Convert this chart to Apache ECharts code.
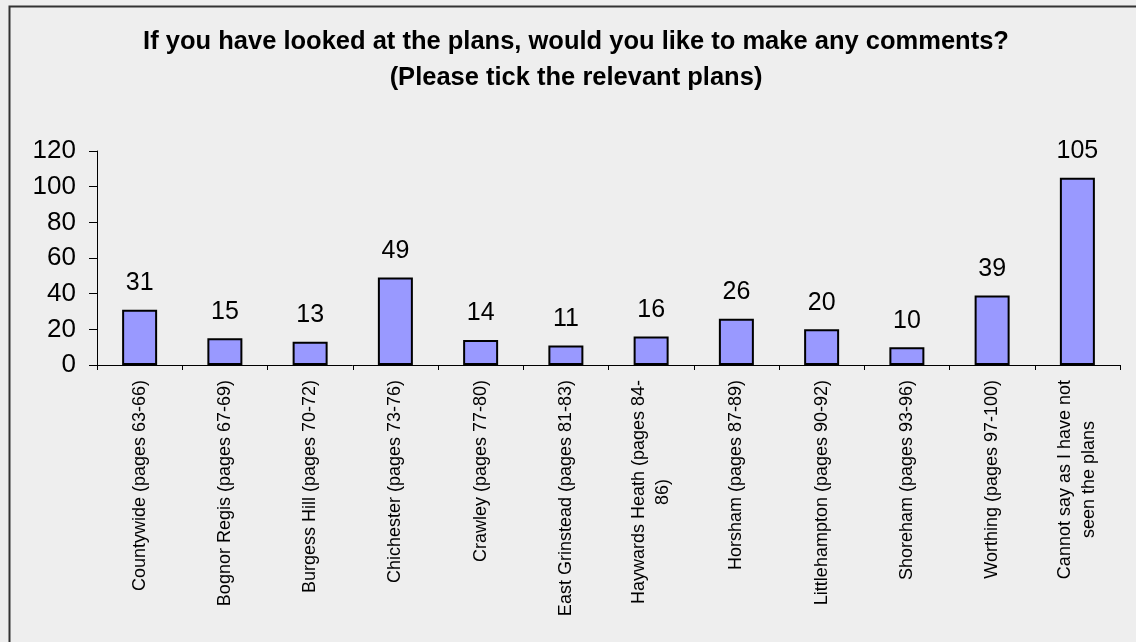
<!DOCTYPE html>
<html>
<head>
<meta charset="utf-8">
<script src="https://cdn.jsdelivr.net/npm/echarts@6/dist/echarts.min.js"></script>
<style>
    html, body {
        margin: 0;
        padding: 0;
        background: #eeeeee;
    }
    #chart {
        width: 1136px;
        height: 642px;
    }
</style>
</head>
<body>
<div id="chart"></div>
<script>
const categories = [
    'Countywide (pages 63-66)',
    'Bognor Regis (pages 67-69)',
    'Burgess Hill (pages 70-72)',
    'Chichester (pages 73-76)',
    'Crawley (pages 77-80)',
    'East Grinstead (pages 81-83)',
    'Haywards Heath (pages 84-\n86)',
    'Horsham (pages 87-89)',
    'Littlehampton (pages 90-92)',
    'Shoreham (pages 93-96)',
    'Worthing (pages 97-100)',
    'Cannot say as I have not\nseen the plans'
];
const counts = [31, 15, 13, 49, 14, 11, 16, 26, 20, 10, 39, 105];
const yTicks = { min: 0, max: 120, interval: 20 };

const font = 'Liberation Sans, Arial, sans-serif';
const chart = echarts.init(document.getElementById('chart'));

chart.setOption({
    backgroundColor: '#eeeeee',
    animation: false,
    title: {
        text: 'If you have looked at the plans, would you like to make any comments?\n(Please tick the relevant plans)',
        left: 571,
        top: 19,
        textAlign: 'center',
        textStyle: {
            fontFamily: font,
            fontSize: 25.5,
            fontWeight: 'bold',
            color: '#000',
            lineHeight: 36
        }
    },
    graphic: [
        {
            // frame round the chart, only its left and top edges are inside the picture
            type: 'rect',
            left: 7,
            top: 4,
            shape: { width: 1200, height: 700 },
            style: { fill: 'none', stroke: '#333', lineWidth: 2 },
            silent: true
        }
    ],
    grid: {
        left: 97,
        right: 16,
        top: 151,
        bottom: 277
    },
    xAxis: {
        type: 'category',
        data: categories,
        axisLine: { lineStyle: { color: '#000', width: 1 } },
        axisTick: { show: true, alignWithLabel: false, length: 5, lineStyle: { color: '#000' } },
        axisLabel: {
            interval: 0,
            rotate: 90,
            margin: 15,
            color: '#000',
            fontFamily: font,
            fontSize: 18,
            // each line centred on the others, block still ends at the axis
            formatter: v => v.split('\n').map(s => '{c|' + s + '}').join('\n'),
            rich: {
                c: { align: 'center', fontFamily: font, fontSize: 18, color: '#000', lineHeight: 24 }
            }
        }
    },
    yAxis: {
        type: 'value',
        min: yTicks.min,
        max: yTicks.max,
        interval: yTicks.interval,
        axisLine: { show: true, lineStyle: { color: '#000', width: 1 } },
        axisTick: { show: true, length: 8, lineStyle: { color: '#000' } },
        splitLine: { show: false },
        axisLabel: {
            color: '#000',
            fontFamily: font,
            fontSize: 26,
            margin: 21
        }
    },
    series: [
        {
            type: 'bar',
            data: counts,
            barWidth: 35,
            itemStyle: {
                color: '#9999ff',
                borderColor: '#000',
                borderWidth: 2
            },
            label: {
                show: true,
                position: 'top',
                distance: 14,
                color: '#000',
                fontFamily: font,
                fontSize: 25
            }
        }
    ]
});
</script>
</body>
</html>
